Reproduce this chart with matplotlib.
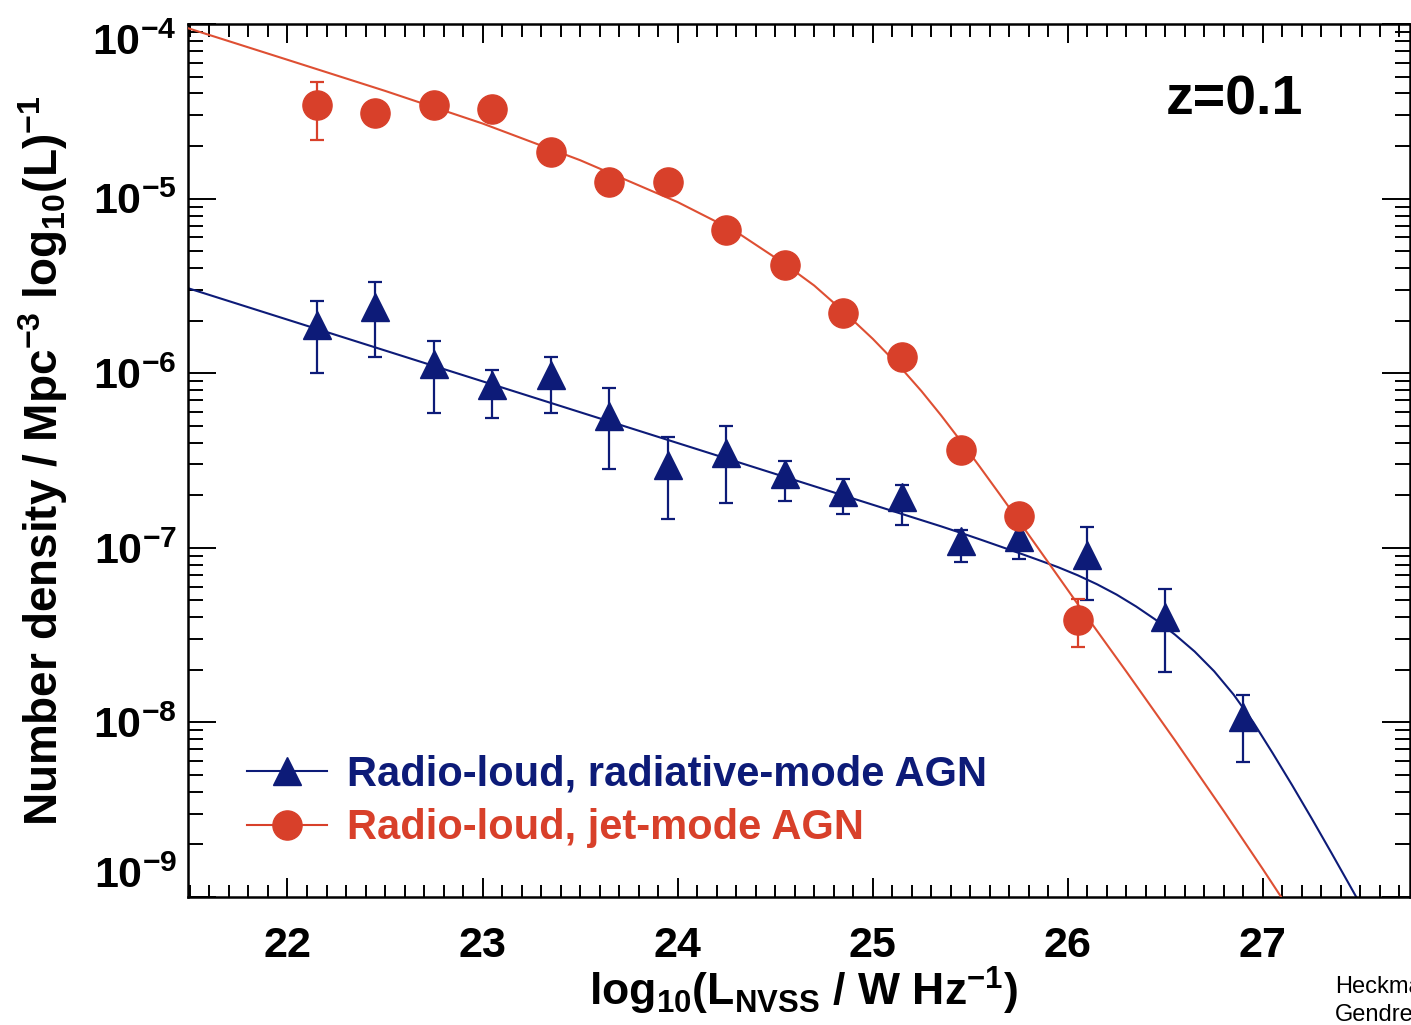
import numpy as np
import matplotlib
matplotlib.use("Agg")
import matplotlib.pyplot as plt
from matplotlib.lines import Line2D
from matplotlib.ticker import MultipleLocator, LogLocator, NullFormatter

plt.rcParams['font.family'] = ['Liberation Sans', 'DejaVu Sans']
plt.rcParams['mathtext.fontset'] = 'custom'
plt.rcParams['mathtext.rm'] = 'Liberation Sans'
plt.rcParams['mathtext.bf'] = 'Liberation Sans:bold'
plt.rcParams['mathtext.it'] = 'Liberation Sans:italic'

BLUE = '#0d1b78'
RED = '#d8402a'
RED_LINE = '#de4f33'

# radiative-mode AGN (triangles): log L, density, error bar top / bottom
rad_x = [22.15, 22.45, 22.75, 23.05, 23.35, 23.65, 23.95, 24.25, 24.55, 24.85,
         25.15, 25.45, 25.75, 26.10, 26.50, 26.90]
rad_y = [1.89e-6, 2.39e-6, 1.13e-6, 8.55e-7, 9.77e-7, 5.69e-7, 2.98e-7, 3.49e-7,
         2.65e-7, 2.09e-7, 1.95e-7, 1.09e-7, 1.15e-7, 9.1e-8, 4.02e-8, 1.07e-8]
rad_hi = [2.6e-6, 3.33e-6, 1.53e-6, 1.04e-6, 1.24e-6, 8.18e-7, 4.32e-7, 4.99e-7,
          3.16e-7, 2.47e-7, 2.29e-7, 1.26e-7, 1.35e-7, 1.32e-7, 5.8e-8, 1.44e-8]
rad_lo = [1.0e-6, 1.24e-6, 5.94e-7, 5.56e-7, 5.94e-7, 2.82e-7, 1.46e-7, 1.80e-7,
          1.86e-7, 1.56e-7, 1.35e-7, 8.3e-8, 8.6e-8, 5.0e-8, 1.95e-8, 5.9e-9]

# jet-mode AGN (circles)
jet_x = [22.15, 22.45, 22.75, 23.05, 23.35, 23.65, 23.95, 24.25, 24.55, 24.85,
         25.15, 25.45, 25.75, 26.05]
jet_y = [3.44e-5, 3.08e-5, 3.44e-5, 3.25e-5, 1.86e-5, 1.24e-5, 1.24e-5, 6.6e-6,
         4.17e-6, 2.2e-6, 1.245e-6, 3.63e-7, 1.52e-7, 3.86e-8]
jet_hi = [4.68e-5, 3.08e-5, 3.44e-5, 3.25e-5, 1.86e-5, 1.24e-5, 1.24e-5, 6.6e-6,
          4.17e-6, 2.2e-6, 1.245e-6, 3.63e-7, 1.52e-7, 5.07e-8]
jet_lo = [2.17e-5, 3.08e-5, 3.44e-5, 3.25e-5, 1.86e-5, 1.24e-5, 1.24e-5, 6.6e-6,
          4.17e-6, 2.2e-6, 1.245e-6, 3.63e-7, 1.52e-7, 2.69e-8]

# fitted curves (log10 density)
red_curve_x = [21.487, 22.0, 22.5, 23.0, 23.5, 24.0, 24.3, 24.55, 24.7, 24.85,
               25.0, 25.15, 25.25, 25.35, 25.45, 25.55, 25.65, 25.75, 25.9, 26.05,
               26.3, 26.55, 26.8, 27.0, 27.15]
red_curve_logy = [-4.023, -4.205, -4.383, -4.570, -4.780, -5.020, -5.190, -5.375,
                  -5.498, -5.646, -5.803, -5.976, -6.103, -6.241, -6.387, -6.538,
                  -6.692, -6.848, -7.084, -7.321, -7.709, -8.104, -8.509, -8.841, -9.096]
blue_curve_x = [21.487, 23.4, 25.35, 25.45, 25.55, 25.65, 25.75, 25.85, 25.95, 26.05,
                26.15, 26.25, 26.35, 26.45, 26.55, 26.65, 26.75, 26.85, 26.95, 27.05,
                27.15, 27.25, 27.35, 27.45, 27.55]
blue_curve_logy = [-5.512, -6.188, -6.877, -6.914, -6.952, -6.991, -7.030, -7.070,
                   -7.111, -7.157, -7.209, -7.268, -7.336, -7.412, -7.498, -7.594,
                   -7.707, -7.841, -7.998, -8.176, -8.360, -8.550, -8.745, -8.943, -9.143]

xticks = [22, 23, 24, 25, 26, 27]
yticks = [1e-9, 1e-8, 1e-7, 1e-6, 1e-5, 1e-4]
ytick_labels = [r'$\mathbf{10^{-9}}$', r'$\mathbf{10^{-8}}$', r'$\mathbf{10^{-7}}$',
                r'$\mathbf{10^{-6}}$', r'$\mathbf{10^{-5}}$', r'$\mathbf{10^{-4}}$']


def main():
    fig = plt.figure(figsize=(14.11, 10.25), dpi=100)
    ax = fig.add_axes([188 / 1411, 1 - 897 / 1025, (1410 - 188) / 1411, (897 - 24) / 1025])

    ry = np.array(rad_y)
    ax.errorbar(rad_x, ry, yerr=[ry - np.array(rad_lo), np.array(rad_hi) - ry],
                fmt='^', color=BLUE, ms=20, capsize=5, elinewidth=1.6, capthick=1.6, zorder=3)
    ax.plot(blue_curve_x, 10 ** np.array(blue_curve_logy), color=BLUE, lw=1.5, zorder=2)

    jy = np.array(jet_y)
    ax.errorbar(jet_x, jy, yerr=[jy - np.array(jet_lo), np.array(jet_hi) - jy],
                fmt='o', color=RED, ms=21, capsize=5, elinewidth=1.6, capthick=1.6, zorder=5)
    ax.plot(red_curve_x, 10 ** np.array(red_curve_logy), color=RED_LINE, lw=1.5, zorder=4)

    ax.set_yscale('log')
    ax.set_xlim(21.49, 27.754)
    ax.set_ylim(1e-9, 1e-4)

    ax.set_xticks(xticks)
    ax.set_xticklabels([str(t) for t in xticks], fontsize=31, fontweight='bold')
    ax.xaxis.set_minor_locator(MultipleLocator(0.1))
    ax.set_yticks(yticks)
    ax.set_yticklabels(ytick_labels, fontsize=31)
    ax.yaxis.set_minor_locator(LogLocator(base=10, subs=range(2, 10)))
    ax.yaxis.set_minor_formatter(NullFormatter())
    labs = ax.get_yticklabels()
    labs[0].set_va('bottom')
    labs[-1].set_va('top')

    ax.tick_params(which='both', direction='in', top=True, right=True, width=1.4, colors='black')
    ax.tick_params(axis='x', which='major', length=14, pad=21)
    ax.tick_params(axis='x', which='minor', length=9)
    ax.tick_params(axis='y', which='major', length=20, pad=8)
    ax.tick_params(axis='y', which='minor', length=11)
    for s in ax.spines.values():
        s.set_linewidth(1.8)

    ax.set_xlabel(r'log$_{\mathbf{10}}$(L$_{\mathbf{NVSS}}$ / W Hz$^{\mathbf{-1}}$)',
                  fontsize=32, fontweight='bold')
    ax.xaxis.set_label_coords(0.504, -0.078)
    ax.set_ylabel(r'Number density / Mpc$^{\mathbf{-3}}$ log$_{\mathbf{10}}$(L)$^{\mathbf{-1}}$',
                  fontsize=33, fontweight='bold')
    ax.yaxis.set_label_coords(-0.0965, 0.5)

    ax.text(0.80, 0.896, 'z=0.1', transform=ax.transAxes, fontsize=40,
            fontweight='bold', va='baseline', ha='left')

    h1 = Line2D([], [], color=BLUE, marker='^', ms=20, lw=1.5,
                label='Radio-loud, radiative-mode AGN')
    h2 = Line2D([], [], color=RED, marker='o', ms=21, lw=1.5,
                label='Radio-loud, jet-mode AGN')
    ax.legend(handles=[h1, h2], loc='lower left', bbox_to_anchor=(0.048, 0.056),
              frameon=False, borderpad=0, borderaxespad=0, handlelength=1.94,
              handletextpad=0.46, labelspacing=0.32, numpoints=1,
              prop={'weight': 'bold', 'size': 30}, labelcolor='linecolor')

    fig.text(1335 / 1411, 1 - 993 / 1025, 'Heckman', fontsize=17, va='baseline')
    fig.text(1335 / 1411, 1 - 1021 / 1025, 'Gendre', fontsize=17, va='baseline')

    fig.savefig('out.png', dpi=100)


if __name__ == "__main__":
    main()
